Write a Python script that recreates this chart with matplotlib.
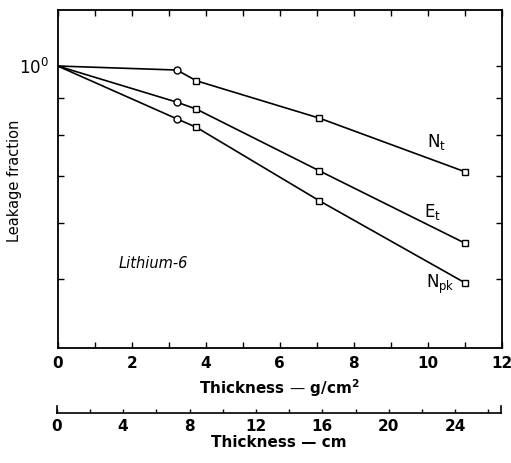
import numpy as np
import matplotlib
matplotlib.use("Agg")
import matplotlib.pyplot as plt
from matplotlib.ticker import FixedLocator, NullFormatter, NullLocator

# Thickness (g/cm^2) of the measured slabs
thick_circle = [0.0, 3.22]
thick_square = [3.75, 7.07, 11.0]

# Leakage fractions for each quantity
nt_vals = [1.0, 0.987, 0.953, 0.844, 0.709]
et_vals = [1.0, 0.889, 0.869, 0.711, 0.562]
npk_vals = [1.0, 0.842, 0.819, 0.645, 0.494]

x_ticks = [0, 2, 4, 6, 8, 10, 12]
cm_ticks = [0, 4, 8, 12, 16, 20, 24]
cm_max = 26.74

W, H = 511, 463
fig = plt.figure(figsize=(W / 100, H / 100), dpi=100)
plt.rcParams['font.family'] = ['DejaVu Sans']

ax = fig.add_axes([57.7 / W, 1 - 347.5 / H, (501.7 - 57.7) / W, (347.5 - 10) / H])
ax.set_yscale('log')
ax.set_xlim(0, 12)
ax.set_ylim(0.4, 1.2)

xs = thick_circle + thick_square
for vals in (nt_vals, et_vals, npk_vals):
    ax.plot(xs, vals, color='black', lw=1.2, zorder=2)
    ax.plot(thick_circle[1:], vals[1:2], 'o', ms=5, mfc='white', mec='black', mew=1.0, zorder=3)
    ax.plot(thick_square, vals[2:], 's', ms=4.5, mfc='white', mec='black', mew=1.0, zorder=3)

for s in ax.spines.values():
    s.set_linewidth(1.3)

ax.xaxis.set_major_locator(FixedLocator(x_ticks))
ax.xaxis.set_minor_locator(FixedLocator([1, 3, 5, 7, 9, 11]))
ax.set_xticklabels([str(v) for v in x_ticks], fontsize=11, fontweight='bold')
ax.yaxis.set_major_locator(FixedLocator([1.0]))
ax.yaxis.set_minor_locator(FixedLocator([0.5, 0.6, 0.7, 0.8, 0.9]))
ax.yaxis.set_minor_formatter(NullFormatter())
ax.set_yticklabels([r'$\mathregular{10^0}$'], fontsize=12)
ax.tick_params(which='both', direction='in', top=True, right=True, length=4, width=1.0)
ax.tick_params(axis='x', pad=6)
ax.tick_params(axis='y', pad=6)

ax.set_xlabel(r'Thickness — g/cm$\mathregular{^2}$', fontsize=11, fontweight='bold', labelpad=5)
ax.set_ylabel('Leakage fraction', fontsize=10.5)
ax.yaxis.set_label_coords(-0.08, 0.493)

ax.text(10.25, 0.781, r'$\mathregular{N_t}$', fontsize=12, ha='center', va='center')
ax.text(10.14, 0.622, r'$\mathregular{E_t}$', fontsize=12, ha='center', va='center')
ax.text(10.34, 0.492, r'$\mathregular{N_{pk}}$', fontsize=12, ha='center', va='center')
ax.text(2.58, 0.525, 'Lithium-6', fontsize=10.5, style='italic', ha='center', va='center')

# Secondary thickness scale in centimetres
ax2 = fig.add_axes([56.7 / W, 1 - 413.3 / H, (500.7 - 56.7) / W, 7 / H])
ax2.set_xlim(0, cm_max)
ax2.spines['top'].set_visible(False)
for s in ax2.spines.values():
    s.set_linewidth(1.2)
ax2.yaxis.set_major_locator(NullLocator())
ax2.xaxis.set_major_locator(FixedLocator(cm_ticks))
ax2.xaxis.set_minor_locator(FixedLocator([2, 6, 10, 14, 18, 22, 26]))
ax2.set_xticklabels([str(v) for v in cm_ticks], fontsize=11, fontweight='bold')
ax2.tick_params(which='both', direction='in', length=3, width=1.0, pad=4)
ax2.patch.set_alpha(0)
ax2.set_xlabel('Thickness — cm', fontsize=11, fontweight='bold', labelpad=1)

fig.savefig('out.png', dpi=100)
